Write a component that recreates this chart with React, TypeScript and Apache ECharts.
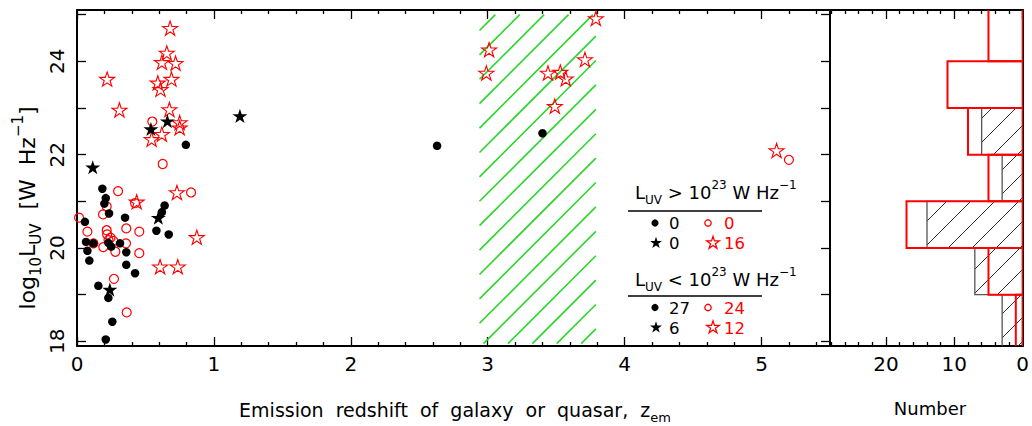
import React, { useEffect, useRef } from "react";
import * as echarts from "echarts";

// ---------------- data ----------------
// [z_em, log10 L_UV]
const blackDots: [number, number][] = [
  [0.795, 22.21], [2.63, 22.19], [3.4, 22.46], [0.185, 21.27], [0.21, 21.07],
  [0.2, 20.95], [0.234, 20.74], [0.058, 20.56], [0.351, 20.65], [0.64, 20.91],
  [0.62, 20.77], [0.58, 20.37], [0.67, 20.29], [0.066, 20.13], [0.12, 20.1],
  [0.229, 20.11], [0.314, 20.1], [0.25, 20.03], [0.076, 19.94], [0.09, 19.73],
  [0.36, 19.91], [0.36, 19.64], [0.424, 19.46], [0.156, 19.19], [0.229, 18.93],
  [0.258, 18.42], [0.21, 18.04],
];
const blackStars: [number, number][] = [
  [0.54, 22.55], [0.66, 22.72], [1.19, 22.83], [0.115, 21.73], [0.594, 20.65], [0.24, 19.11],
];
const redStars: [number, number][] = [
  [0.68, 24.71], [0.656, 24.18], [0.62, 23.98], [0.72, 23.96], [0.22, 23.62], [0.69, 23.62],
  [0.59, 23.54], [0.61, 23.4], [3.79, 24.92], [3.01, 24.25], [2.99, 23.75], [3.44, 23.75],
  [3.53, 23.77], [3.57, 23.63], [3.71, 24.04], [3.49, 23.04],
  [0.31, 22.96], [0.675, 22.97], [0.75, 22.69], [0.75, 22.58], [0.62, 22.44], [0.545, 22.33],
  [5.11, 22.09], [0.73, 21.19], [0.436, 20.99], [0.875, 20.23], [0.607, 19.6], [0.736, 19.6],
];
const redCircles: [number, number][] = [
  [0.55, 22.71], [5.2, 21.89], [0.626, 21.8], [0.3, 21.22], [0.833, 21.19], [0.424, 20.96],
  [0.217, 20.89], [0.19, 20.72], [0.015, 20.65], [0.076, 20.35], [0.217, 20.38], [0.22, 20.29],
  [0.36, 20.42], [0.455, 20.35], [0.12, 20.1], [0.23, 20.17], [0.265, 20.15], [0.358, 20.1],
  [0.192, 20.02], [0.245, 20.22], [0.28, 19.92], [0.455, 19.89], [0.27, 19.34], [0.363, 18.62],
];
// hatched redshift zone: [zLow, zHigh, logLLow, logLHigh]
const hatchZone = [2.94, 3.79, 17.95, 25.0];

// histogram (bins in log10 L_UV)
const histBinLow = [17, 19, 20, 21, 22, 23, 24];
const histBinHigh = [19, 20, 21, 22, 23, 24, 26];
const histBlack = [3, 7, 14, 3, 6, 0, 0];
const histRed = [1, 5, 17, 5, 8, 11, 5];

// ticks
const xMajorTicks = [0, 1, 2, 3, 4, 5];
const xMinorTicks = [0.2, 0.4, 0.6, 0.8, 1.2, 1.4, 1.6, 1.8, 2.2, 2.4, 2.6, 2.8, 3.2, 3.4, 3.6, 3.8, 4.2, 4.4, 4.6, 4.8, 5.2, 5.4];
const yTicks = [18, 19, 20, 21, 22, 23, 24, 25];
const yLabels = [18, 20, 22, 24];
const histMajorTicks = [0, 10, 20];
const histMinorTicks = [2, 4, 6, 8, 12, 14, 16, 18, 22, 24, 26, 28];
const LUV_SPLIT = 23;

// ---------------- helpers ----------------
const FONT = "DejaVu Sans";
const STAR_PATH =
  "path://M50,0L61.23,34.55L97.55,34.55L68.17,55.9L79.39,90.45L50,69.1L20.61,90.45L31.83,55.9L2.45,34.55L38.77,34.55Z";

function starPoints(cx: number, cy: number, r: number) {
  const pts: number[][] = [];
  for (let k = 0; k < 10; k++) {
    const a = -Math.PI / 2 + (k * Math.PI) / 5;
    const rr = k % 2 === 0 ? r : r * 0.382;
    pts.push([cx + rr * Math.cos(a), cy + rr * Math.sin(a)]);
  }
  return pts;
}

function diagLines(x0: number, y0: number, x1: number, y1: number, step: number, phase: number, color: string, width: number) {
  const out: any[] = [];
  const cMin = x0 + y0;
  const cMax = x1 + y1;
  const k0 = Math.ceil((cMin - phase) / step);
  for (let c = phase + k0 * step; c <= cMax; c += step) {
    const xa = Math.max(x0, c - y1);
    const xb = Math.min(x1, c - y0);
    if (xb - xa > 0.5) {
      out.push({
        type: "line",
        shape: { x1: xa, y1: c - xa, x2: xb, y2: c - xb },
        style: { stroke: color, lineWidth: width },
      });
    }
  }
  return out;
}

function rich(base: number) {
  const sm = Math.round(base * 0.66);
  return {
    a: { fontSize: base, fontFamily: FONT, fill: "#000", verticalAlign: "middle", lineHeight: base * 1.5 },
    s: { fontSize: sm, fontFamily: FONT, fill: "#000", verticalAlign: "bottom", lineHeight: sm * 1.15 },
    p: { fontSize: sm, fontFamily: FONT, fill: "#000", verticalAlign: "top", lineHeight: sm * 1.15 },
  };
}

function textEl(x: number, y: number, text: string, base: number, align: string, rotation = 0) {
  return {
    type: "text",
    x,
    y,
    rotation,
    silent: true,
    style: {
      text,
      rich: rich(base),
      fontSize: base,
      fontFamily: FONT,
      fill: "#000",
      textAlign: align,
      textVerticalAlign: "middle",
    },
  };
}

function plainText(x: number, y: number, text: string, size: number, color: string) {
  return {
    type: "text",
    x,
    y,
    silent: true,
    style: {
      text,
      fontSize: size,
      fontFamily: FONT,
      fill: color,
      textAlign: "left",
      textVerticalAlign: "middle",
    },
  };
}

const countAbove = (arr: [number, number][]) => arr.filter((p) => p[1] > LUV_SPLIT).length;
const countBelow = (arr: [number, number][]) => arr.filter((p) => p[1] <= LUV_SPLIT).length;

function baseAxis(extra: any) {
  return {
    type: "value",
    axisLine: { show: true, onZero: false, lineStyle: { color: "#000", width: 2 } },
    axisTick: { show: false },
    axisLabel: { show: false },
    splitLine: { show: false },
    minorTick: { show: false },
    minorSplitLine: { show: false },
    ...extra,
  };
}

const tickStyle = { color: "#000", width: 1.3 };
const NUM_FONT = 16.5;

export default function App() {
  const ref = useRef<HTMLDivElement>(null);
  useEffect(() => {
    if (!ref.current) return;
    const chart = echarts.init(ref.current, undefined, { renderer: "svg" });

    const mainX = { gridIndex: 0, min: 0, max: 5.5 };
    const mainY = { gridIndex: 0, min: 17.9, max: 25.1 };
    const histX = { gridIndex: 1, min: 0, max: 28.2, inverse: true };
    const histY = { gridIndex: 1, min: 17.9, max: 25.1 };

    const xAxis = [
      baseAxis({
        ...mainX,
        position: "bottom",
        axisTick: { show: true, inside: true, length: 9, customValues: xMajorTicks, lineStyle: tickStyle },
        axisLabel: { show: true, customValues: xMajorTicks, margin: 8, fontSize: 20, fontFamily: FONT, color: "#000" },
      }),
      baseAxis({
        ...mainX,
        position: "bottom",
        axisLine: { show: false, onZero: false },
        axisTick: { show: true, inside: true, length: 4, customValues: xMinorTicks, lineStyle: tickStyle },
      }),
      baseAxis({
        ...mainX,
        position: "top",
        axisTick: { show: true, inside: true, length: 9, customValues: xMajorTicks, lineStyle: tickStyle },
      }),
      baseAxis({
        ...mainX,
        position: "top",
        axisLine: { show: false, onZero: false },
        axisTick: { show: true, inside: true, length: 4, customValues: xMinorTicks, lineStyle: tickStyle },
      }),
      baseAxis({
        ...histX,
        position: "bottom",
        axisTick: { show: true, inside: true, length: 9, customValues: histMajorTicks, lineStyle: tickStyle },
        axisLabel: { show: true, customValues: histMajorTicks, margin: 8, fontSize: 20, fontFamily: FONT, color: "#000" },
      }),
      baseAxis({
        ...histX,
        position: "bottom",
        axisLine: { show: false, onZero: false },
        axisTick: { show: true, inside: true, length: 4, customValues: histMinorTicks, lineStyle: tickStyle },
      }),
      baseAxis({
        ...histX,
        position: "top",
        axisTick: { show: true, inside: true, length: 9, customValues: histMajorTicks, lineStyle: tickStyle },
      }),
      baseAxis({
        ...histX,
        position: "top",
        axisLine: { show: false, onZero: false },
        axisTick: { show: true, inside: true, length: 4, customValues: histMinorTicks, lineStyle: tickStyle },
      }),
    ];

    const yAxis = [
      baseAxis({
        ...mainY,
        position: "left",
        axisTick: { show: true, inside: true, length: 9, customValues: yTicks, lineStyle: tickStyle },
        axisLabel: { show: true, customValues: yLabels, rotate: 90, margin: 10, fontSize: 20, fontFamily: FONT, color: "#000" },
      }),
      baseAxis({
        ...mainY,
        position: "right",
        axisTick: { show: true, inside: true, length: 9, customValues: yTicks, lineStyle: tickStyle },
      }),
      baseAxis({ ...histY, position: "left" }),
      baseAxis({ ...histY, position: "right" }),
    ];

    const histData = histBinLow.map((lo, i) => [histBlack[i], histRed[i], lo, histBinHigh[i]]);

    const histRect = (api: any, cnt: number) => {
      const a = api.coord([cnt, api.value(3)]);
      const b = api.coord([0, api.value(2)]);
      const x0 = Math.min(a[0], b[0]);
      const x1 = Math.max(a[0], b[0]);
      const y0 = Math.min(a[1], b[1]);
      const y1 = Math.max(a[1], b[1]);
      return { x0, x1, y0, y1 };
    };

    const option: any = {
      animation: false,
      backgroundColor: "#fff",
      grid: [
        { left: 77, top: 10, width: 753, height: 336, show: false },
        { left: 830, top: 10, width: 200, height: 336, show: false },
      ],
      xAxis,
      yAxis,
      series: [
        {
          type: "custom",
          xAxisIndex: 0,
          yAxisIndex: 0,
          silent: true,
          clip: true,
          z: 1,
          data: [hatchZone],
          encode: { x: [0, 1], y: [2, 3] },
          renderItem: (params: any, api: any) => {
            const p0 = api.coord([api.value(0), api.value(3)]);
            const p1 = api.coord([api.value(1), api.value(2)]);
            return {
              type: "group",
              children: diagLines(p0[0], p0[1], p1[0], p1[1], 24.4, 510, "#2bd62b", 1.6),
            };
          },
        },
        {
          type: "scatter",
          xAxisIndex: 0,
          yAxisIndex: 0,
          silent: true,
          z: 2,
          symbol: "circle",
          symbolSize: 9,
          itemStyle: { color: "rgba(255,255,255,0)", borderColor: "#ff0000", borderWidth: 1.2, opacity: 1 },
          data: redCircles,
        },
        {
          type: "scatter",
          xAxisIndex: 0,
          yAxisIndex: 0,
          silent: true,
          z: 3,
          symbol: STAR_PATH,
          symbolSize: [15, 14.2],
          itemStyle: { color: "rgba(255,255,255,0)", borderColor: "#ff0000", borderWidth: 1.1, opacity: 1 },
          data: redStars,
        },
        {
          type: "scatter",
          xAxisIndex: 0,
          yAxisIndex: 0,
          silent: true,
          z: 4,
          symbol: "circle",
          symbolSize: 8.5,
          itemStyle: { color: "#000", opacity: 1 },
          data: blackDots,
        },
        {
          type: "scatter",
          xAxisIndex: 0,
          yAxisIndex: 0,
          silent: true,
          z: 5,
          symbol: STAR_PATH,
          symbolSize: [15, 14.2],
          itemStyle: { color: "#000", opacity: 1 },
          data: blackStars,
        },
        {
          type: "custom",
          xAxisIndex: 4,
          yAxisIndex: 2,
          silent: true,
          clip: true,
          z: 2,
          data: histData,
          encode: { x: [0, 1], y: [2, 3] },
          renderItem: (params: any, api: any) => {
            const cnt = api.value(0);
            if (!cnt) return { type: "group", children: [] };
            const r = histRect(api, cnt);
            return {
              type: "group",
              children: [
                ...diagLines(r.x0, r.y0, r.x1, r.y1, 24, 500, "#333", 1),
                {
                  type: "rect",
                  shape: { x: r.x0, y: r.y0, width: r.x1 - r.x0, height: r.y1 - r.y0 },
                  style: { fill: "none", stroke: "#555", lineWidth: 1.3 },
                },
              ],
            };
          },
        },
        {
          type: "custom",
          xAxisIndex: 4,
          yAxisIndex: 2,
          silent: true,
          clip: true,
          z: 3,
          data: histData,
          encode: { x: [0, 1], y: [2, 3] },
          renderItem: (params: any, api: any) => {
            const cnt = api.value(1);
            if (!cnt) return { type: "group", children: [] };
            const r = histRect(api, cnt);
            return {
              type: "rect",
              shape: { x: r.x0, y: r.y0, width: r.x1 - r.x0, height: r.y1 - r.y0 },
              style: { fill: "none", stroke: "#ff0000", lineWidth: 2 },
            };
          },
        },
      ],
      graphic: [
        textEl(27, 208, "{a|log}{s|10}{a|L}{s|UV}{a|  [W  Hz}{p|−1}{a|]}", 22, "center", Math.PI / 2),
        textEl(455, 410, "{a|Emission  redshift  of  galaxy  or  quasar,  z}{s|em}", 19, "center"),
        textEl(930, 408, "{a|Number}", 18, "center"),
        // legend, upper block
        textEl(635, 192, "{a|L}{s|UV}{a| > 10}{p|23}{a| W Hz}{p|−1}", 18, "left"),
        { type: "line", silent: true, shape: { x1: 628, y1: 211, x2: 762, y2: 211 }, style: { stroke: "#000", lineWidth: 1.5 } },
        { type: "circle", silent: true, shape: { cx: 655, cy: 223, r: 3.6 }, style: { fill: "#000" } },
        plainText(669, 223.5, String(countAbove(blackDots)), NUM_FONT, "#000"),
        { type: "circle", silent: true, shape: { cx: 708, cy: 223, r: 3.2 }, style: { fill: "none", stroke: "#ff0000", lineWidth: 1.3 } },
        plainText(724, 223.5, String(countAbove(redCircles)), NUM_FONT, "#ff0000"),
        { type: "polygon", silent: true, shape: { points: starPoints(656, 243, 6.3) }, style: { fill: "#000" } },
        plainText(669, 243.5, String(countAbove(blackStars)), NUM_FONT, "#000"),
        { type: "polygon", silent: true, shape: { points: starPoints(713, 243, 6.6) }, style: { fill: "none", stroke: "#ff0000", lineWidth: 1.3 } },
        plainText(724, 243.5, String(countAbove(redStars)), NUM_FONT, "#ff0000"),
        // legend, lower block
        textEl(635, 279, "{a|L}{s|UV}{a| < 10}{p|23}{a| W Hz}{p|−1}", 18, "left"),
        { type: "line", silent: true, shape: { x1: 628, y1: 296, x2: 762, y2: 296 }, style: { stroke: "#000", lineWidth: 1.5 } },
        { type: "circle", silent: true, shape: { cx: 655, cy: 307.5, r: 3.6 }, style: { fill: "#000" } },
        plainText(669, 308, String(countBelow(blackDots)), NUM_FONT, "#000"),
        { type: "circle", silent: true, shape: { cx: 708, cy: 307.5, r: 3.2 }, style: { fill: "none", stroke: "#ff0000", lineWidth: 1.3 } },
        plainText(724, 308, String(countBelow(redCircles)), NUM_FONT, "#ff0000"),
        { type: "polygon", silent: true, shape: { points: starPoints(656, 327.5, 6.3) }, style: { fill: "#000" } },
        plainText(669, 328, String(countBelow(blackStars)), NUM_FONT, "#000"),
        { type: "polygon", silent: true, shape: { points: starPoints(713, 327.5, 6.6) }, style: { fill: "none", stroke: "#ff0000", lineWidth: 1.3 } },
        plainText(724, 328, String(countBelow(redStars)), NUM_FONT, "#ff0000"),
      ],
    };

    chart.setOption(option);
    return () => chart.dispose();
  }, []);

  return (
    <div
      ref={ref}
      style={{ position: "absolute", left: 0, top: 0, width: 1032, height: 426, background: "#fff" }}
    />
  );
}
